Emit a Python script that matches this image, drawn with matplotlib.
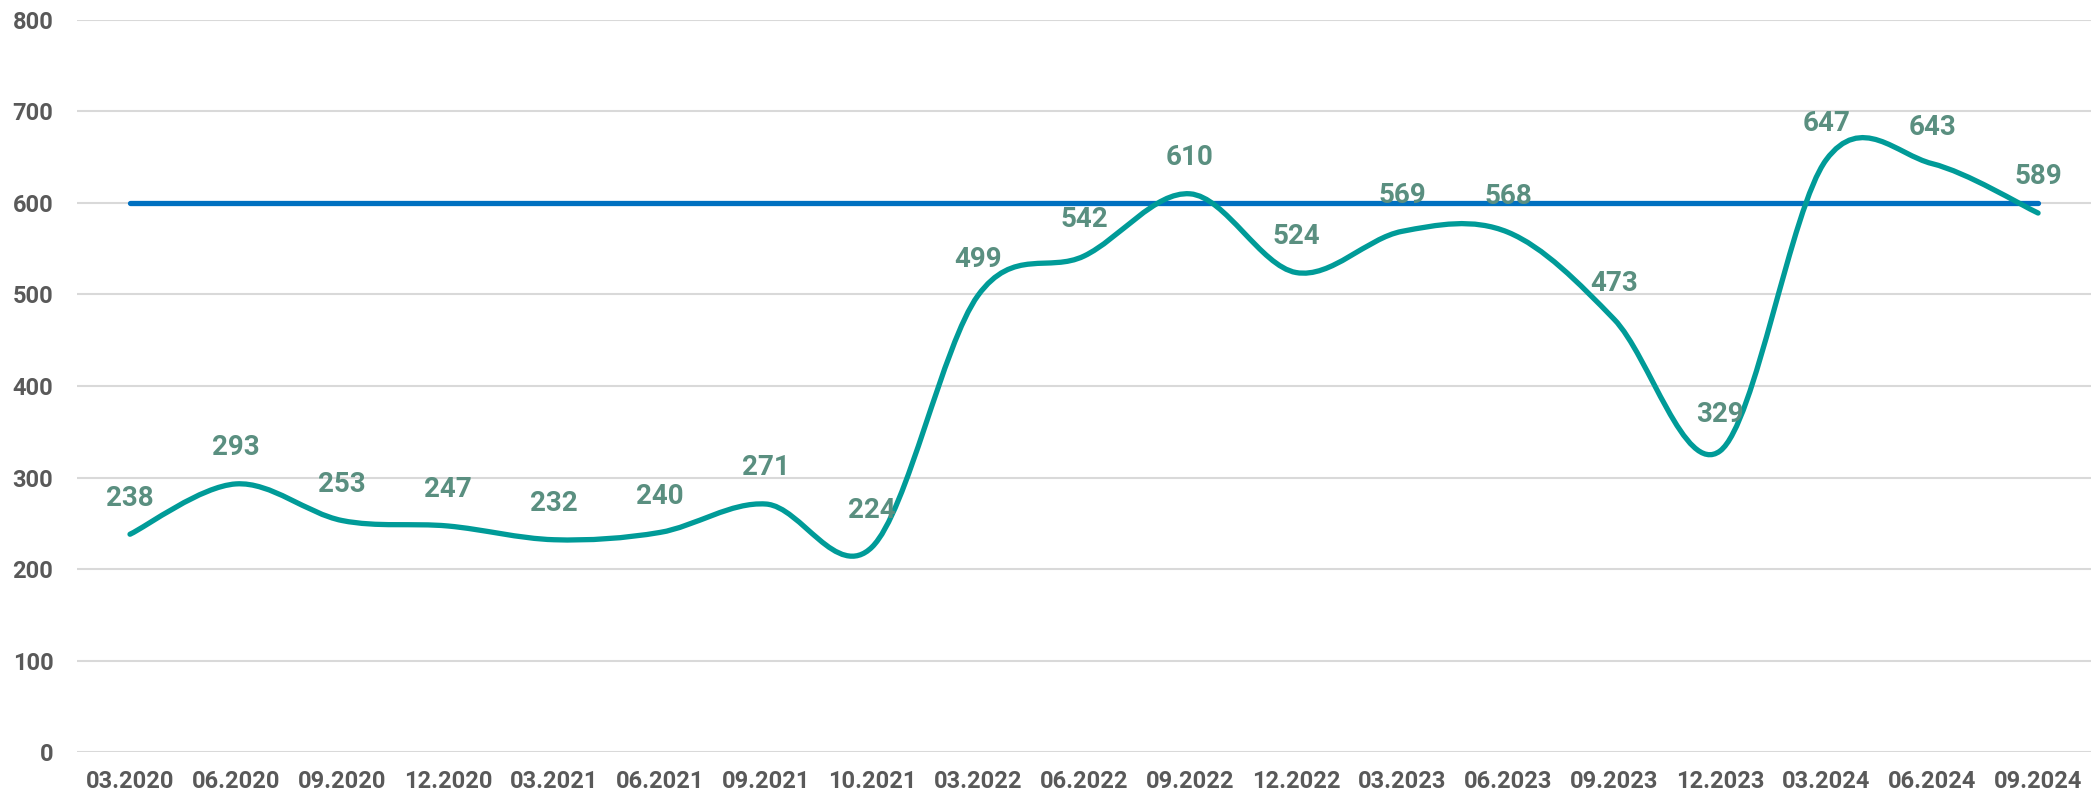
import numpy as np
import matplotlib
matplotlib.use("Agg")
import matplotlib.pyplot as plt
from matplotlib.path import Path
from matplotlib.patches import PathPatch

categories = ["03.2020", "06.2020", "09.2020", "12.2020", "03.2021", "06.2021",
              "09.2021", "10.2021", "03.2022", "06.2022", "09.2022", "12.2022",
              "03.2023", "06.2023", "09.2023", "12.2023", "03.2024", "06.2024",
              "09.2024"]
values = [238, 293, 253, 247, 232, 240, 271, 224, 499, 542, 610, 524,
          569, 568, 473, 329, 647, 643, 589]
target = [600] * len(categories)
y_ticks = [0, 100, 200, 300, 400, 500, 600, 700, 800]

TEAL = "#009B98"
BLUE = "#0070C0"
LABEL = "#5A8F80"
TICK = "#595959"
GRID = "#D9D9D9"

plt.rcParams['font.family'] = ['Roboto', 'DejaVu Sans']

fig = plt.figure(figsize=(20.98, 7.98), dpi=100)
ax = fig.add_axes([0.0367, 0.0576, 0.9600, 0.9174])

x = np.arange(len(categories))
ax.set_xlim(-0.5, len(categories) - 0.5)
ax.set_ylim(0, 800)

ax.set_yticks(y_ticks)
ax.yaxis.grid(True, color=GRID, linewidth=1.5)
ax.set_axisbelow(True)

ax.plot(x, target, color=BLUE, linewidth=3.8, solid_capstyle='round', zorder=3)

# smoothed line (Catmull-Rom Bezier, like Excel's smoothing)
pts = np.column_stack([x, values]).astype(float)
verts = [tuple(pts[0])]
codes = [Path.MOVETO]
n = len(pts)
for i in range(n - 1):
    p0 = pts[i - 1] if i > 0 else pts[i]
    p1 = pts[i]
    p2 = pts[i + 1]
    p3 = pts[i + 2] if i + 2 < n else pts[i + 1]
    c1 = p1 + (p2 - p0) / 6.0
    c2 = p2 - (p3 - p1) / 6.0
    verts += [tuple(c1), tuple(c2), tuple(p2)]
    codes += [Path.CURVE4] * 3
path = Path(verts, codes)
ax.add_patch(PathPatch(path, facecolor='none', edgecolor=TEAL, linewidth=3.8,
                       capstyle='round', joinstyle='round', zorder=4))

for xi, v in zip(x, values):
    ax.annotate(str(v), (xi, v), xytext=(0, 26), textcoords='offset points',
                ha='center', va='center', fontsize=20, fontweight='bold',
                color=LABEL, zorder=5)

ax.set_xticks(x)
ax.set_xticklabels(categories)
for s in ax.spines.values():
    s.set_visible(False)
ax.tick_params(axis='both', length=0, labelsize=17, labelcolor=TICK)
ax.tick_params(axis='y', pad=17)
ax.tick_params(axis='x', pad=13)
for lbl in ax.get_xticklabels() + ax.get_yticklabels():
    lbl.set_fontweight('bold')

fig.savefig("out.png", dpi=100)
